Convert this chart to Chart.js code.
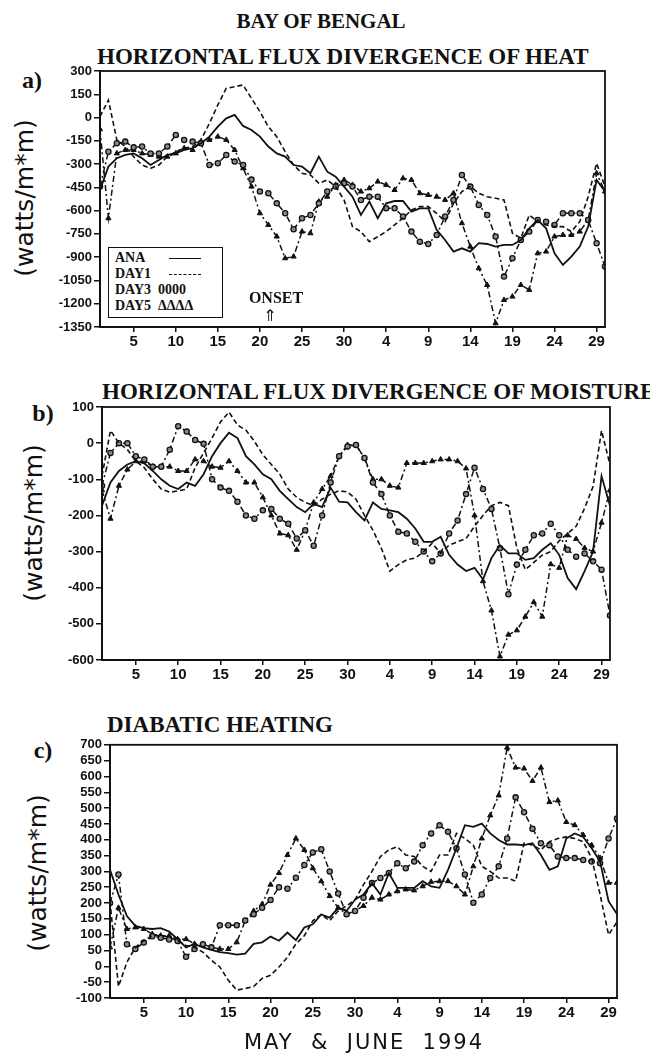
<!DOCTYPE html>
<html>
<head>
<meta charset="utf-8">
<script src="https://cdn.jsdelivr.net/npm/chart.js@4.4.1/dist/chart.umd.min.js"></script>
<style>
  body { margin: 0; background: #fff; }
  #page { position: relative; width: 650px; height: 1055px; overflow: hidden; color: #111; }
  canvas { position: absolute; left: 0; }
  .t { position: absolute; white-space: pre; font-family: "Liberation Serif", serif; font-weight: bold; }
  .c { transform: translate(-50%, -50%); }
  .l { transform: translate(0, -50%); }
  .ylab { position: absolute; white-space: nowrap; font-family: "DejaVu Sans", sans-serif; font-size: 25px;
          transform: translate(-50%, -50%) rotate(-90deg); }
  #legend { position: absolute; left: 108px; top: 247px; width: 113px; height: 69px; border: 1.5px solid #111;
            background: #fff; font-family: "Liberation Serif", serif; font-weight: bold; font-size: 14px; }
  #legend div { position: absolute; left: 6px; white-space: pre; line-height: 14px; }
  .smp { position: absolute; left: 54px; }
</style>
</head>
<body>
<div id="page">
  <div class="t c" style="left:321px;top:21px;font-size:21px;">BAY OF BENGAL</div>

  <div class="t l" style="left:97px;top:57px;font-size:23px;">HORIZONTAL FLUX DIVERGENCE OF HEAT</div>
  <div class="t c" style="left:32px;top:80px;font-size:24px;">a)</div>
  <div class="ylab" style="left:24px;top:198px;">(watts/m*m)</div>
  <canvas id="heat" width="650" height="300" style="top:60px"></canvas>
  <div id="legend">
    <div style="top:3px">ANA<span class="smp" style="top:7px;width:32px;border-top:1.5px solid #111"></span></div>
    <div style="top:19px">DAY1<span class="smp" style="top:7px;width:32px;border-top:1.5px dashed #111"></span></div>
    <div style="top:35px">DAY3  0000</div>
    <div style="top:51px">DAY5  ΔΔΔΔ</div>
  </div>
  <div class="t c" style="left:276px;top:298px;font-size:16px;">ONSET</div>
  <div class="t c" style="left:270px;top:315px;font-size:16px;font-family:'DejaVu Sans';font-weight:normal;">⇑</div>

  <div class="t l" style="left:102px;top:392px;font-size:23px;">HORIZONTAL FLUX DIVERGENCE OF MOISTURE</div>
  <div class="t c" style="left:43px;top:413px;font-size:24px;">b)</div>
  <div class="ylab" style="left:33px;top:523px;">(watts/m*m)</div>
  <canvas id="moist" width="650" height="300" style="top:395px"></canvas>

  <div class="t l" style="left:107px;top:725px;font-size:23px;">DIABATIC HEATING</div>
  <div class="t c" style="left:43px;top:750px;font-size:24px;">c)</div>
  <div class="ylab" style="left:37px;top:873px;">(watts/m*m)</div>
  <canvas id="diab" width="650" height="300" style="top:735px"></canvas>

  <div class="t c" style="left:364px;top:1042px;font-size:21px;font-family:'DejaVu Sans';font-weight:normal;letter-spacing:2px;">MAY  &amp;  JUNE  1994</div>
</div>

<script>
// day index 0 = 1 May ... 60 = 30 June
const dayIndex = Array.from({ length: 61 }, (_, i) => i);
const tickPos = [4, 9, 14, 19, 24, 29, 34, 39, 44, 49, 54, 59];
const tickLabels = ['5', '10', '15', '20', '25', '30', '4', '9', '14', '19', '24', '29'];

// a) horizontal flux divergence of heat
const heatAna = [-467,-316,-262,-241,-231,-262,-306,-273,-241,-231,-209,-198,-166,-123,-59,-5,17,-54,-80,-123,
  -187,-231,-252,-306,-316,-359,-252,-349,-381,-445,-510,-628,-542,-649,-553,-538,-538,-606,-585,-585,
  -724,-789,-864,-843,-864,-810,-815,-832,-821,-821,-789,-714,-660,-714,-875,-950,-896,-832,-703,-402,-477];
const heatDay1 = [6,113,-144,-187,-252,-306,-327,-306,-252,-220,-198,-187,-144,-37,81,188,199,210,124,38,
  -59,-123,-220,-306,-359,-370,-424,-402,-445,-531,-703,-735,-800,-768,-735,-692,-649,-596,-574,-574,
  -617,-671,-553,-477,-445,-488,-510,-520,-531,-746,-778,-628,-671,-692,-703,-703,-735,-671,-510,-295,-445];
const heatDay3 = [-445,-220,-166,-155,-192,-187,-231,-231,-187,-112,-144,-155,-166,-306,-295,-241,-284,-306,-400,-477,
  -488,-553,-617,-720,-649,-628,-553,-477,-445,-424,-445,-531,-510,-510,-585,-585,-638,-735,-800,-815,
  -757,-638,-531,-370,-445,-563,-628,-767,-1025,-907,-789,-735,-660,-671,-692,-617,-617,-617,-660,-810,-960];
const heatDay5 = [-76,-649,-231,-209,-209,-231,-241,-252,-252,-231,-198,-209,-155,-144,-123,-144,-209,-327,-445,-617,
  -692,-767,-907,-896,-735,-746,-542,-510,-434,-402,-434,-477,-456,-413,-434,-467,-392,-402,-488,-499,
  -510,-531,-488,-681,-832,-972,-1079,-1326,-1176,-1154,-1079,-1111,-875,-864,-767,-757,-757,-735,-660,-359,-477];

// b) horizontal flux divergence of moisture
const moistAna = [-173,-109,-77,-59,-50,-56,-77,-100,-118,-127,-109,-118,-86,-36,0,29,14,-36,-59,-86,
  -100,-132,-155,-177,-191,-168,-177,-123,-162,-164,-191,-214,-164,-182,-186,-191,-209,-236,-273,-273,
  -259,-309,-336,-354,-345,-377,-318,-282,-305,-305,-323,-318,-295,-277,-309,-373,-404,-354,-300,-91,-173];
const moistDay1 = [-91,35,0,-18,-50,-68,-100,-127,-136,-132,-127,-68,-27,14,59,86,50,36,5,-32,
  -59,-86,-127,-150,-164,-173,-155,-141,-132,-135,-155,-200,-241,-291,-354,-336,-323,-318,-300,-277,
  -305,-282,-273,-264,-230,-200,-173,-164,-173,-290,-350,-330,-310,-300,-270,-250,-230,-180,-120,35,-60];
const moistDay3 = [-118,-27,0,0,-36,-45,-65,-65,-18,47,32,9,-2,-100,-123,-132,-162,-200,-209,-186,
  -182,-209,-223,-264,-241,-284,-200,-109,-36,-9,-5,-41,-109,-141,-200,-245,-250,-273,-300,-327,
  -305,-250,-214,-141,-68,-127,-182,-291,-418,-336,-295,-255,-250,-223,-255,-295,-314,-305,-327,-350,-477];
const moistDay5 = [-130,-209,-118,-73,-50,-50,-65,-65,-65,-77,-77,-45,-50,-65,-68,-50,-77,-109,-109,-150,
  -200,-250,-255,-295,-241,-164,-127,-91,-36,-5,-5,-41,-100,-100,-118,-123,-55,-55,-55,-50,
  -45,-45,-50,-70,-200,-382,-463,-590,-530,-518,-480,-440,-480,-335,-345,-255,-265,-290,-300,-220,-130];

// c) diabatic heating
const diabAna = [305,227,159,128,121,118,121,110,86,60,71,60,52,45,42,37,40,71,76,94,
  81,107,83,123,133,164,154,185,175,211,227,263,227,295,248,248,248,269,253,248,
  305,373,446,441,451,420,399,385,385,383,389,352,305,316,404,420,409,373,331,206,165];
const diabDay1 = [206,-64,13,60,81,97,97,92,81,66,60,45,19,-2,-44,-75,-70,-64,-38,-28,
  -2,29,71,97,144,164,144,175,191,211,258,300,347,368,378,352,347,316,300,352,
  352,420,404,383,316,300,279,279,269,389,383,368,394,404,409,404,394,342,227,100,140];
const diabDay3 = [200,290,70,55,75,95,90,85,80,30,55,70,60,130,130,130,145,165,185,210,
  250,245,280,320,360,370,300,230,165,175,217,263,279,295,326,310,331,383,420,446,
  425,373,290,201,227,279,316,404,534,487,435,389,383,347,342,342,336,331,326,404,467];
const diabDay5 = [60,185,118,123,118,102,97,97,86,86,71,71,60,55,55,76,144,175,196,258,
  295,352,404,368,310,269,222,185,165,175,191,217,211,227,237,243,240,253,267,269,
  269,253,227,316,404,477,540,691,628,625,586,628,519,524,456,446,415,383,342,264,264];

const ink = '#111';

// frame round the plot area (top and right sides too)
const frame = {
  id: 'frame',
  afterDraw(chart) {
    const a = chart.chartArea, ctx = chart.ctx;
    ctx.save();
    ctx.strokeStyle = ink;
    ctx.lineWidth = 1.8;
    ctx.strokeRect(a.left, a.top, a.right - a.left, a.bottom - a.top);
    ctx.restore();
  }
};

function series(ana, day1, day3, day5) {
  return [
    { data: ana, borderColor: ink, borderWidth: 1.8, pointRadius: 0 },
    { data: day1, borderColor: ink, borderWidth: 1.6, borderDash: [5, 3], pointRadius: 0 },
    { data: day3, borderColor: ink, borderWidth: 1.5, borderDash: [6, 3, 2, 3], pointStyle: 'circle',
      pointRadius: 2.6, pointBackgroundColor: '#8a8a8a', pointBorderColor: ink, pointBorderWidth: 1.3 },
    { data: day5, borderColor: ink, borderWidth: 1.5, borderDash: [6, 3, 2, 3], pointStyle: 'triangle',
      pointRadius: 3, pointBackgroundColor: ink, pointBorderColor: ink, pointBorderWidth: 1 }
  ];
}

function buildPanel(id, datasets, y, box) {
  const ctx = document.getElementById(id).getContext('2d');
  new Chart(ctx, {
    type: 'line',
    data: { labels: dayIndex, datasets: datasets },
    options: {
      responsive: false,
      animation: false,
      devicePixelRatio: 1,
      layout: { padding: { top: box.top, right: box.right, left: 0, bottom: 0 } },
      plugins: { legend: { display: false }, tooltip: { enabled: false } },
      elements: { line: { tension: 0 } },
      scales: {
        x: {
          type: 'linear', min: 0, max: 60,
          afterBuildTicks: s => { s.ticks = tickPos.map(v => ({ value: v })); },
          afterFit: s => { s.height = box.xHeight; },
          ticks: {
            autoSkip: false, maxRotation: 0, padding: 1, color: ink,
            font: { family: 'Liberation Sans', size: 15, weight: 'bold' },
            callback: v => tickLabels[tickPos.indexOf(v)]
          },
          grid: { drawOnChartArea: false, drawTicks: true, tickLength: 5, color: ink, lineWidth: 1.5 },
          border: { color: ink, width: 2 }
        },
        y: {
          min: y.min, max: y.max,
          afterFit: s => { s.width = box.left; },
          ticks: {
            stepSize: y.step, autoSkip: false, padding: 2, color: ink,
            font: { family: 'Liberation Sans', size: y.font, weight: 'bold' },
            callback: v => String(v)
          },
          grid: { drawOnChartArea: false, drawTicks: true, tickLength: 6, color: ink, lineWidth: 1.5 },
          border: { color: ink, width: 2 }
        }
      }
    },
    plugins: [frame]
  });
}

buildPanel('heat', series(heatAna, heatDay1, heatDay3, heatDay5),
  { min: -1350, max: 300, step: 150, font: 13 },
  { left: 100, right: 45, top: 11, xHeight: 33 });

buildPanel('moist', series(moistAna, moistDay1, moistDay3, moistDay5),
  { min: -600, max: 100, step: 100, font: 13 },
  { left: 102, right: 40, top: 12, xHeight: 35 });

buildPanel('diab', series(diabAna, diabDay1, diabDay3, diabDay5),
  { min: -100, max: 700, step: 50, font: 13 },
  { left: 110, right: 33, top: 7, xHeight: 37 });
</script>
</body>
</html>
